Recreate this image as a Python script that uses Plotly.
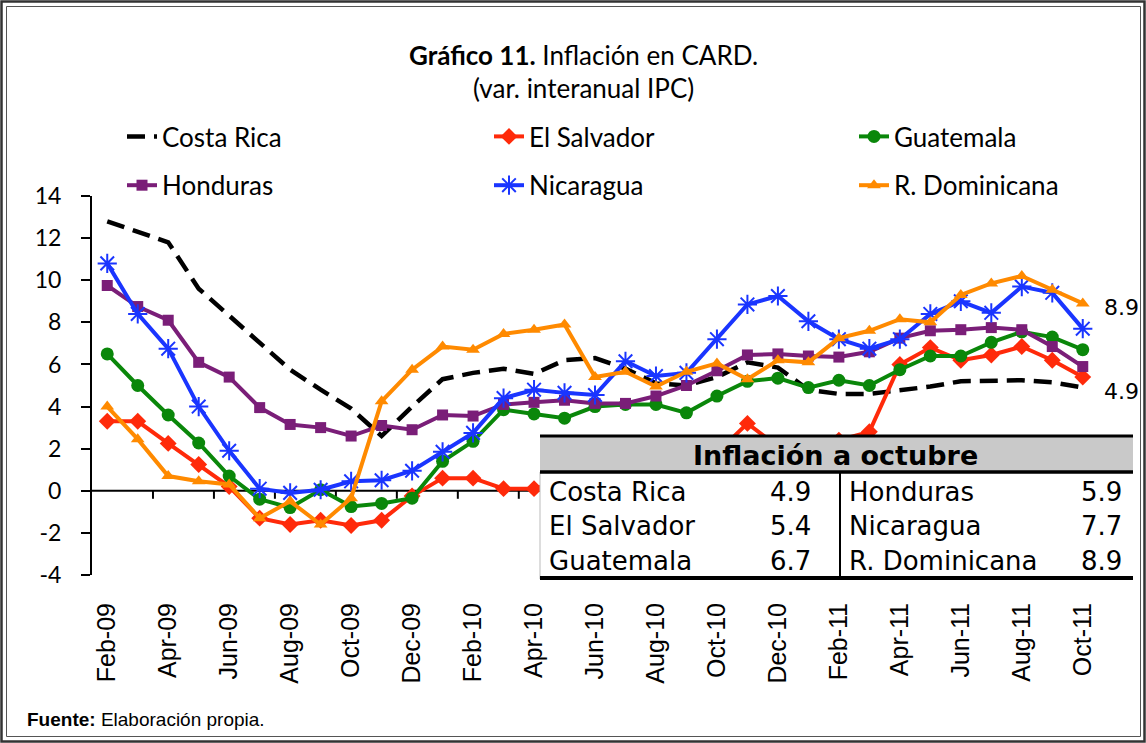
import plotly.graph_objects as go

# ---------------- data ----------------
months = ["Feb-09", "Mar-09", "Apr-09", "May-09", "Jun-09", "Jul-09", "Aug-09", "Sep-09",
          "Oct-09", "Nov-09", "Dec-09", "Jan-10", "Feb-10", "Mar-10", "Apr-10", "May-10",
          "Jun-10", "Jul-10", "Aug-10", "Sep-10", "Oct-10", "Nov-10", "Dec-10", "Jan-11",
          "Feb-11", "Mar-11", "Apr-11", "May-11", "Jun-11", "Jul-11", "Aug-11", "Sep-11",
          "Oct-11"]

costa_rica = [12.8, 12.3, 11.8, 9.6, 8.3, 7.0, 5.75, 4.8, 3.9, 2.6, 4.0, 5.3, 5.6, 5.8, 5.55,
              6.2, 6.3, 5.8, 5.1, 5.0, 5.4, 6.1, 5.85, 4.8, 4.6, 4.6, 4.75, 4.95, 5.2, 5.2,
              5.25, 5.15, 4.9]
el_salvador = [3.3, 3.3, 2.25, 1.25, 0.2, -1.3, -1.6, -1.4, -1.65, -1.4, -0.25, 0.6, 0.6, 0.1,
               0.1, 0.5, 0.6, 0.9, 1.0, 1.3, 1.8, 3.2, 2.1, 2.2, 2.4, 2.8, 6.0, 6.8, 6.2, 6.45,
               6.85, 6.2, 5.4]
guatemala = [6.5, 5.0, 3.6, 2.27, 0.7, -0.4, -0.8, 0.05, -0.75, -0.6, -0.35, 1.4, 2.35, 3.85,
             3.65, 3.45, 4.0, 4.1, 4.1, 3.7, 4.5, 5.2, 5.35, 4.9, 5.25, 5.0, 5.75, 6.4, 6.4,
             7.05, 7.55, 7.3, 6.7]
honduras = [9.75, 8.75, 8.1, 6.1, 5.4, 3.95, 3.15, 3.0, 2.6, 3.1, 2.9, 3.6, 3.55, 4.1, 4.2,
            4.3, 4.15, 4.15, 4.5, 5.0, 5.7, 6.45, 6.5, 6.4, 6.35, 6.6, 7.25, 7.6, 7.65, 7.75,
            7.65, 6.85, 5.9]
nicaragua = [10.8, 8.4, 6.75, 4.0, 1.9, 0.1, -0.1, 0.05, 0.45, 0.5, 0.95, 1.85, 2.75, 4.4,
             4.8, 4.65, 4.55, 6.15, 5.45, 5.6, 7.2, 8.85, 9.25, 8.05, 7.2, 6.75, 7.2, 8.4,
             9.0, 8.45, 9.7, 9.4, 7.7]
r_dominicana = [4.0, 2.45, 0.7, 0.45, 0.3, -1.3, -0.5, -1.6, -0.35, 4.25, 5.75, 6.85, 6.7,
                7.45, 7.65, 7.9, 5.4, 5.65, 4.95, 5.65, 6.05, 5.3, 6.2, 6.1, 7.25, 7.6, 8.15,
                8.0, 9.3, 9.85, 10.2, 9.55, 8.9]

series_names = ["Costa Rica", "El Salvador", "Guatemala", "Honduras", "Nicaragua", "R. Dominicana"]
series_values = [costa_rica, el_salvador, guatemala, honduras, nicaragua, r_dominicana]

y_ticks = [-4, -2, 0, 2, 4, 6, 8, 10, 12, 14]
y_tick_labels = ["-4", "-2", "0", "2", "4", "6", "8", "10", "12", "14"]

# ---------------- geometry helpers (pixel -> paper) ----------------
W, H = 1146, 743
ML, MR, MT, MB = 92, 48, 196, 168
PW, PH = W - ML - MR, H - MT - MB


def px(x):
    return (x - ML) / PW


def py(y):
    return (H - MB - y) / PH


x_idx = list(range(len(months)))

styles = {
    "Costa Rica": dict(line=dict(color="black", width=4.5, dash="18px,9px"), mode="lines",
                       marker=None, legend="legend"),
    "El Salvador": dict(line=dict(color="#FF2A0A", width=4), mode="lines+markers",
                        marker=dict(symbol="diamond", size=13, color="#FF2A0A"), legend="legend2"),
    "Guatemala": dict(line=dict(color="#0A870A", width=4), mode="lines+markers",
                      marker=dict(symbol="circle", size=13, color="#0A870A"), legend="legend3"),
    "Honduras": dict(line=dict(color="#7A1E78", width=4), mode="lines+markers",
                     marker=dict(symbol="square", size=11, color="#7A1E78"), legend="legend"),
    "Nicaragua": dict(line=dict(color="#1A35FF", width=4), mode="lines+markers",
                      marker=dict(symbol="asterisk-open", size=16, color="#1A35FF",
                                  line=dict(width=2, color="#1A35FF")), legend="legend2"),
    "R. Dominicana": dict(line=dict(color="#FF8A00", width=4), mode="lines+markers",
                          marker=dict(symbol="triangle-up", size=12, color="#FF8A00"),
                          legend="legend3"),
}

fig = go.Figure()
for name, vals in zip(series_names, series_values):
    st = styles[name]
    kw = dict(x=x_idx, y=vals, name=name, mode=st["mode"], line=st["line"],
              legend=st["legend"], legendgroup=name, hoverinfo="skip")
    if st["marker"] is not None:
        kw["marker"] = st["marker"]
    fig.add_trace(go.Scatter(**kw))

legend_font = dict(family="Lato", size=26, color="black")
common_leg = dict(orientation="v", bgcolor="rgba(0,0,0,0)", font=legend_font,
                  tracegroupgap=12, xanchor="left", yanchor="top", itemwidth=30)

fig.update_layout(
    width=W, height=H,
    margin=dict(l=ML, r=MR, t=MT, b=MB, pad=0),
    paper_bgcolor="white", plot_bgcolor="white",
    showlegend=True,
    legend=dict(x=px(122), y=py(113), **common_leg),
    legend2=dict(x=px(489), y=py(113), **common_leg),
    legend3=dict(x=px(854), y=py(113), **common_leg),
    xaxis=dict(range=[-0.5, len(months) - 0.5], tickvals=x_idx[::2], ticktext=months[::2],
               tickangle=-90, showline=False, showgrid=False, zeroline=False, ticks="",
               ticklabelstandoff=22,
               tickfont=dict(family="Liberation Sans", size=25, color="black")),
    yaxis=dict(range=[-4, 14], tickvals=y_ticks, ticktext=y_tick_labels, showline=True,
               linecolor="black", linewidth=2,
               ticks="outside", ticklen=9, tickwidth=2, tickcolor="black", showgrid=False,
               zeroline=False, ticklabelstandoff=15,
               tickfont=dict(family="Lato", size=23, color="black")),
)

shapes = []
# category axis line at zero with tick marks every two categories
shapes.append(dict(type="line", xref="x", yref="y", x0=-0.5, x1=len(months) - 0.5, y0=0, y1=0,
                   line=dict(color="black", width=2), layer="below"))
for k in range(1, len(months) // 2 + 1):
    xb = 2 * k - 0.5
    if xb < len(months) - 0.5:
        shapes.append(dict(type="line", xref="x", yref="y", ysizemode="pixel", yanchor=0,
                           x0=xb, x1=xb, y0=0, y1=-8, line=dict(color="black", width=2),
                           layer="below"))

# table box (drawn over the lines)
tx0, tx1, ty0, ty1, thead = 540, 1133, 435, 579, 472
shapes.append(dict(type="rect", xref="paper", yref="paper", x0=px(tx0), x1=px(tx1),
                   y0=py(ty1), y1=py(ty0), fillcolor="white", line=dict(width=0), layer="above"))
shapes.append(dict(type="rect", xref="paper", yref="paper", x0=px(tx0), x1=px(tx1),
                   y0=py(thead), y1=py(ty0), fillcolor="#C9C9C9", line=dict(width=0), layer="above"))
shapes.append(dict(type="line", xref="paper", yref="paper", x0=px(tx0), x1=px(tx0),
                   y0=py(ty1), y1=py(thead), line=dict(color="#BBBBBB", width=1), layer="above"))
shapes.append(dict(type="line", xref="paper", yref="paper", x0=px(840), x1=px(840),
                   y0=py(ty1), y1=py(thead), line=dict(color="black", width=2), layer="above"))
for yy, wd in [(ty0 + 1, 3), (thead, 3.5), (ty1 - 1, 4)]:
    shapes.append(dict(type="line", xref="paper", yref="paper", x0=px(tx0), x1=px(tx1),
                       y0=py(yy), y1=py(yy), line=dict(color="black", width=wd), layer="above"))

# outer double frame
shapes.append(dict(type="rect", xref="paper", yref="paper", x0=px(1.5), x1=px(1144.5),
                   y0=py(741.5), y1=py(1.5), line=dict(color="#333333", width=2.5), layer="above"))
shapes.append(dict(type="rect", xref="paper", yref="paper", x0=px(6.5), x1=px(1140.5),
                   y0=py(736.5), y1=py(6.5), line=dict(color="#555555", width=1), layer="above"))
fig.update_layout(shapes=shapes)

ann = []
ann.append(dict(xref="paper", yref="paper", x=px(583), y=py(55), xanchor="center",
                yanchor="middle", showarrow=False,
                text="<b>Gráfico 11.</b> Inflación en CARD.",
                font=dict(family="Lato", size=26, color="black")))
ann.append(dict(xref="paper", yref="paper", x=px(583), y=py(88), xanchor="center",
                yanchor="middle", showarrow=False, text="(var. interanual IPC)",
                font=dict(family="Lato", size=26, color="black")))

# end labels for the two series annotated at the right
for vals in (r_dominicana, costa_rica):
    ann.append(dict(xref="x", yref="y", x=x_idx[-1], y=vals[-1], xanchor="left",
                    yanchor="middle", xshift=19, yshift=-4, showarrow=False,
                    text=f"{vals[-1]:.1f}", font=dict(family="DejaVu Sans", size=22, color="black")))

# table text
tfont = dict(family="DejaVu Sans", size=26, color="black")
ann.append(dict(xref="paper", yref="paper", x=px((tx0 + tx1) / 2 - 1), y=py(455),
                xanchor="center", yanchor="middle", showarrow=False,
                text="<b>Inflación a octubre</b>",
                font=dict(family="DejaVu Sans", size=27, color="black")))
row_y = [492, 526, 561]
for i, (name, vals) in enumerate(zip(series_names, series_values)):
    col = i // 3
    r = i % 3
    xl = 547 if col == 0 else 847
    xr = 813 if col == 0 else 1124
    ann.append(dict(xref="paper", yref="paper", x=px(xl), y=py(row_y[r]), xanchor="left",
                    yanchor="middle", showarrow=False, text=name, font=tfont))
    ann.append(dict(xref="paper", yref="paper", x=px(xr), y=py(row_y[r]), xanchor="right",
                    yanchor="middle", showarrow=False, text=f"{vals[-1]:.1f}", font=tfont))

# source
ann.append(dict(xref="paper", yref="paper", x=px(25), y=py(719), xanchor="left",
                yanchor="middle", showarrow=False,
                text="<b>Fuente:</b> Elaboración propia.",
                font=dict(family="Liberation Sans", size=19, color="black")))
fig.update_layout(annotations=ann)

fig.write_html("out.html", config={"displayModeBar": False},
               post_script="document.body.style.margin='0';document.body.style.overflow='hidden';")
